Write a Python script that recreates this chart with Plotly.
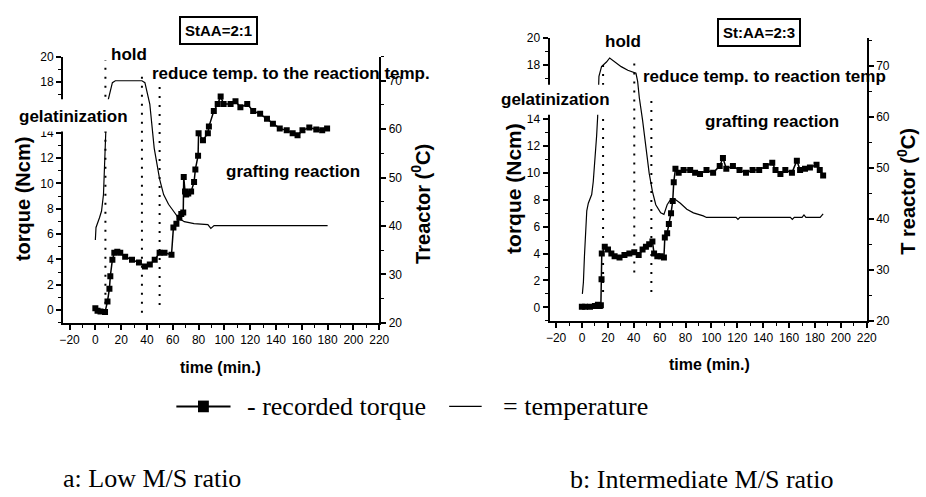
import plotly.graph_objects as go

W, H = 926, 497

# ---------------- data: panel a (StAA = 2:1) ----------------
a_torque_time = [0, 1.7, 4.0, 7.5, 9.4, 10.9, 11.6, 13.2, 14.7, 17.0, 19.3, 23.1, 28.4, 33.8,
                 38.4, 42.2, 46.0, 49.8, 53.6, 59.0, 60.5, 62.8, 65.1, 66.6, 68.1, 68.5, 69.5,
                 70.4, 72.0, 74.2, 76.5, 77.5, 79.6, 80.0, 83.4, 87.2, 88.0, 91.8, 94.8, 97.1,
                 99.4, 104.8, 108.6, 112.4, 117.7, 122.3, 127.7, 133.0, 137.6, 142.9, 148.3,
                 152.9, 156.7, 160.5, 165.8, 171.2, 175.8, 179.6]
a_torque = [0.15, -0.05, -0.1, -0.15, 0.69, 1.69, 2.68, 3.98, 4.52, 4.6, 4.52, 4.21, 3.98, 3.75,
            3.45, 3.6, 3.98, 4.52, 4.52, 4.37, 6.51, 6.82, 7.28, 7.59, 7.7, 10.5, 9.35,
            9.12, 9.2, 9.35, 10.1, 11.1, 12.18, 13.95, 13.4, 13.95, 14.48, 15.7, 16.25, 16.86,
            16.25, 16.25, 16.48, 16.0, 16.25, 15.7, 15.48, 15.1, 14.71, 14.33, 14.18,
            13.95, 13.79, 14.18, 14.41, 14.25, 14.18, 14.33]
a_temp_time = [0.0, 0.5, 3.2, 4.8, 6.3, 7.1, 7.8, 7.9, 8.6, 10.1, 13.2, 15.5, 36.1, 38.4, 42.2,
               45.6, 47.5, 49.8, 52.9, 56.7, 60.5, 64.3, 68.9, 76.5, 87.2, 89.5, 92.0, 180.0]
a_temp = [37.1, 39.7, 41.7, 43.1, 46.5, 51.7, 55.1, 59.2, 63.2, 66.2, 69.6, 70.0, 70.0, 69.6, 65.2,
          56.1, 53.5, 49.7, 46.5, 44.5, 43.1, 41.7, 40.9, 40.5, 40.3, 39.5, 40.1, 40.1]
a_phase_time = [7.8, 36.1, 49.8]
a_phase_top = [19.7, 18.8, 17.6]
a_phase_bottom = [-0.2, -0.2, 0.4]

# ---------------- data: panel b (St:AA = 2:3) ----------------
b_torque_time = [-0.1, 2.4, 6.2, 10.0, 12.3, 13.8, 14.6, 15.1, 15.3, 17.6, 20.1, 22.7, 25.2, 29.0,
                 32.8, 36.6, 40.4, 43.8, 46.8, 49.4, 51.9, 54.4, 55.7, 58.2, 60.8, 63.3, 64.0,
                 65.8, 67.1, 68.8, 70.1, 70.9, 72.2, 74.7, 78.5, 83.6, 87.4, 91.2, 96.2, 101.3,
                 106.4, 108.9, 111.5, 116.6, 121.7, 126.7, 131.8, 136.9, 142.0, 147.0, 149.5,
                 153.3, 157.1, 162.2, 166.0, 168.5, 172.3, 176.1, 181.2, 183.7, 186.3]
b_torque = [0.05, 0.05, 0.05, 0.1, 0.2, 0.1, 0.17, 2.1, 4.0, 4.5, 4.3, 4.0, 3.8, 3.7,
            3.9, 4.0, 4.1, 3.9, 4.3, 4.5, 4.7, 4.9, 4.0, 3.8, 3.8, 3.7, 5.2,
            5.5, 6.2, 7.0, 7.9, 9.3, 10.3, 10.0, 10.2, 10.2, 10.0, 9.9, 10.2, 10.0,
            10.5, 11.1, 10.3, 10.5, 10.2, 10.0, 10.2, 10.2, 10.5, 10.75, 10.2,
            9.9, 10.2, 10.0, 10.9, 10.2, 10.3, 10.4, 10.6, 10.2, 9.8]
b_temp_time = [0.3, 1.1, 1.9, 2.9, 3.7, 4.9, 6.2, 7.5, 8.7, 9.5, 10.0, 11.3, 12.1, 13.1, 15.1,
               18.9, 21.4, 25.2, 30.3, 35.4, 39.2, 41.7, 43.0, 44.3, 46.8, 49.4, 51.9, 54.4,
               57.0, 60.8, 63.3, 65.8, 68.4, 72.2, 76.0, 81.0, 86.1, 93.7, 96.2, 119.0, 120.5,
               122.0, 161.0, 162.5, 164.0, 170.0, 171.5, 173.0, 184.0, 186.3]
b_temp = [25.3, 27.6, 32.7, 38.4, 41.6, 43.1, 44.1, 44.8, 47.3, 49.8, 53.0, 56.3, 60.0, 68.0, 69.9,
          70.8, 71.6, 70.8, 69.9, 69.2, 68.9, 68.6, 67.0, 63.8, 59.4, 54.0, 49.0, 45.4,
          42.8, 41.2, 40.9, 42.8, 43.8, 43.8, 43.1, 41.9, 41.2, 40.6, 40.3, 40.3, 39.9,
          40.3, 40.3, 39.9, 40.3, 40.3, 40.8, 40.3, 40.3, 41.0]
b_phase_time = [16.3, 40.4, 53.6]
b_phase_top = [18.0, 18.5, 15.8]
b_phase_bottom = [1.15, 2.6, 1.15]

panel_titles = ["StAA=2:1", "St:AA=2:3"]
torque_ticks = [0, 2, 4, 6, 8, 10, 12, 14, 18, 20]   # 16 is hidden behind the label
temp_ticks = [20, 30, 40, 50, 60, 70]
time_ticks = list(range(-20, 221, 20))
torque_range = [-1, 20]
a_temp_range = [20, 75]
b_temp_range = [20, 75.5]
time_range = [-25, 220]


def px(x):
    return x / W


def py(y):
    return 1 - y / H


SANS = "Liberation Sans, Arial, sans-serif"
SERIF = "Liberation Serif, Times New Roman, serif"

fig = go.Figure()


def add_panel(xa, ya_t, ya_T, t_time, torque, T_time, temp, ph_t, ph_top, ph_bot):
    fig.add_trace(go.Scatter(x=T_time, y=temp, mode="lines", xaxis=xa, yaxis=ya_T,
                             line=dict(color="black", width=1.2), showlegend=False,
                             name="temperature"))
    for t, top, bot in zip(ph_t, ph_top, ph_bot):
        fig.add_trace(go.Scatter(x=[t, t], y=[bot, top], mode="lines", xaxis=xa, yaxis=ya_t,
                                 line=dict(color="black", width=2, dash="2px,7px"),
                                 showlegend=False))
    fig.add_trace(go.Scatter(x=t_time, y=torque, mode="lines+markers", xaxis=xa, yaxis=ya_t,
                             line=dict(color="black", width=1.5),
                             marker=dict(symbol="square", size=6, color="black"),
                             showlegend=False, name="recorded torque"))


add_panel("x", "y", "y2", a_torque_time, a_torque, a_temp_time, a_temp,
          a_phase_time, a_phase_top, a_phase_bottom)
add_panel("x2", "y3", "y4", b_torque_time, b_torque, b_temp_time, b_temp,
          b_phase_time, b_phase_top, b_phase_bottom)

tickfont = dict(family=SANS, size=12, color="black")
base = dict(showline=True, linewidth=2, linecolor="black", ticks="outside", ticklen=5,
            tickwidth=1.5, tickcolor="black", showgrid=False, zeroline=False,
            tickfont=tickfont, fixedrange=True)


def minor(d):
    return dict(dtick=d, ticks="outside", ticklen=3, tickwidth=1.2,
                tickcolor="black", showgrid=False)


def xax(domain, anchor):
    return dict(domain=domain, anchor=anchor, range=time_range, tickmode="array",
                tickvals=time_ticks, minor=minor(10), **base)


def ytorque(domain, anchor):
    return dict(domain=domain, anchor=anchor, range=torque_range, tickmode="array",
                tickvals=torque_ticks, minor=minor(1), **base)


def ytemp(over, anchor, rng):
    return dict(overlaying=over, anchor=anchor, side="right", range=rng, tickmode="array",
                tickvals=temp_ticks, minor=minor(5), **base)


fig.update_layout(
    width=W, height=H, margin=dict(l=0, r=0, t=0, b=0),
    paper_bgcolor="white", plot_bgcolor="white", showlegend=False,
    xaxis=xax([px(60), px(381)], "y"),
    yaxis=ytorque([py(325), py(51)], "x"),
    yaxis2=ytemp("y", "x", a_temp_range),
    xaxis2=xax([px(554), px(876)], "y3"),
    yaxis3=ytorque([py(323), py(32)], "x2"),
    yaxis4=ytemp("y3", "x2", b_temp_range),
)

shapes = []
# white patches behind the "gelatinization" labels (break the axes like the original)
for (x0, y0, x1, y1) in [(8, 95, 126, 128), (495, 80, 614, 111)]:
    shapes.append(dict(type="rect", xref="paper", yref="paper", x0=px(x0), x1=px(x1),
                       y0=py(y1), y1=py(y0), fillcolor="white", line=dict(width=0),
                       layer="above"))
# key symbols
shapes.append(dict(type="line", xref="paper", yref="paper", x0=px(175), x1=px(230),
                   y0=py(411), y1=py(411), line=dict(color="black", width=2)))
shapes.append(dict(type="rect", xref="paper", yref="paper", x0=px(197), x1=px(208),
                   y0=py(417), y1=py(405), fillcolor="black", line=dict(width=0)))
shapes.append(dict(type="line", xref="paper", yref="paper", x0=px(452), x1=px(485),
                   y0=py(411), y1=py(411), line=dict(color="black", width=1.3)))
fig.update_layout(shapes=shapes)

ann = []


def label(text, x, y, size=17, xanchor="left", font=SANS, angle=0, bold=True, **kw):
    t = f"<b>{text}</b>" if bold else text
    ann.append(dict(text=t, x=px(x), y=py(y), xref="paper", yref="paper",
                    xanchor=xanchor, yanchor="middle", showarrow=False, textangle=angle,
                    font=dict(family=font, size=size, color="black"), **kw))


# panel a labels
label(panel_titles[0], 217.5, 24, size=15, xanchor="center", bordercolor="black",
      borderwidth=2, borderpad=4, bgcolor="white")
label("hold", 107, 49)
label("reduce temp. to the reaction temp.", 148, 68)
label("gelatinization", 13, 113)
label("grafting reaction", 223, 169)
label("torque (Ncm)", 20, 198, size=20, xanchor="center", angle=-90)
label("Treactor (<sup>0</sup>C)", 423, 203, size=20, xanchor="center", angle=-90)
label("time (min.)", 220, 371, size=16, xanchor="center")

# panel b labels
label(panel_titles[1], 767, 26, size=15, xanchor="center", bordercolor="black",
      borderwidth=2, borderpad=4, bgcolor="white")
label("hold", 608, 35)
label("reduce temp. to reaction temp", 647, 72)
label("gelatinization", 503, 95)
label("grafting reaction", 710, 118)
label("torque (Ncm)", 518, 187, size=21, xanchor="center", angle=-90)
label("T reactor (<sup>0</sup>C)", 916, 190, size=20, xanchor="center", angle=-90)
label("time (min.)", 716, 368, size=16, xanchor="center")

# key text and captions
label("- recorded torque", 245, 411, size=26, font=SERIF, bold=False)
label("= temperature", 505, 411, size=26, font=SERIF, bold=False)
label("a: Low M/S ratio", 58, 485, size=26, font=SERIF, bold=False)
label("b: Intermediate M/S ratio", 573, 486, size=26, font=SERIF, bold=False)

fig.update_layout(annotations=ann)

fig.write_html("out.html")
